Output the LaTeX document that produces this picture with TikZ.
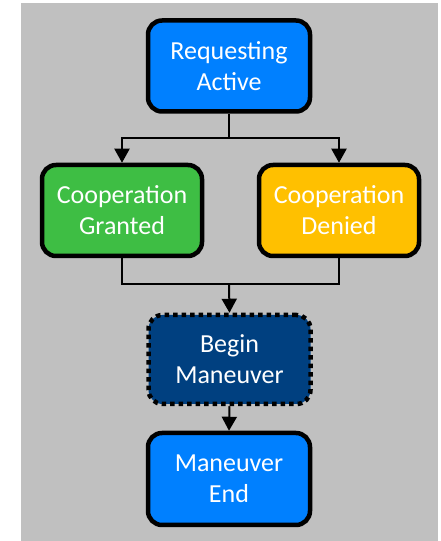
\documentclass[tikz,border=0pt]{standalone}
\usepackage{fontspec}
\setmainfont{Carlito}
\usetikzlibrary{arrows.meta}
\definecolor{bggray}{RGB}{192,192,192}
\definecolor{boxblue}{RGB}{0,128,255}
\definecolor{boxgreen}{RGB}{62,190,68}
\definecolor{boxorange}{RGB}{255,192,0}
\definecolor{boxnavy}{RGB}{0,64,128}
\tikzset{
  statebox/.style={draw=black, line width=4.5pt, rounded corners=14pt, minimum width=162pt, minimum height=91pt, align=center, text=white, font=\fontsize{26}{31}\selectfont, inner sep=0pt},
  dottedbox/.style={statebox, dash pattern=on 4.5pt off 4pt},
  conn/.style={line width=2pt, draw=black},
  arr/.style={conn, -{Triangle[length=14pt,width=15pt]}}
}
\begin{document}
\begin{tikzpicture}[x=1pt,y=1pt]
\useasboundingbox (0,0) rectangle (440,541);
\fill[bggray] (21,0) rectangle (438,538);
\node[statebox, fill=boxblue] (ra) at (229,475) {Requesting\\Active};
\node[statebox, fill=boxgreen, minimum width=160pt] (cg) at (122,330.5) {Cooperation\\Granted};
\node[statebox, fill=boxorange, minimum width=160pt] (cd) at (339,330.5) {Cooperation\\Denied};
\node[dottedbox, fill=boxnavy, minimum height=89pt] (bm) at (229.5,181.5) {Begin\\Maneuver};
\node[statebox, fill=boxblue, minimum height=92pt] (me) at (229,62) {Maneuver\\End};
\coordinate (j1) at (229,403);
\coordinate (j2) at (229,257);
\draw[conn] (ra.south) -- (j1);
\draw[arr] (j1) -| (cg.north);
\draw[arr] (j1) -| (cd.north);
\draw[conn] (cg.south) |- (j2);
\draw[conn] (cd.south) |- (j2);
\draw[arr] (j2) -- (bm.north);
\draw[arr] (bm.south) -- (me.north);
\end{tikzpicture}
\end{document}
